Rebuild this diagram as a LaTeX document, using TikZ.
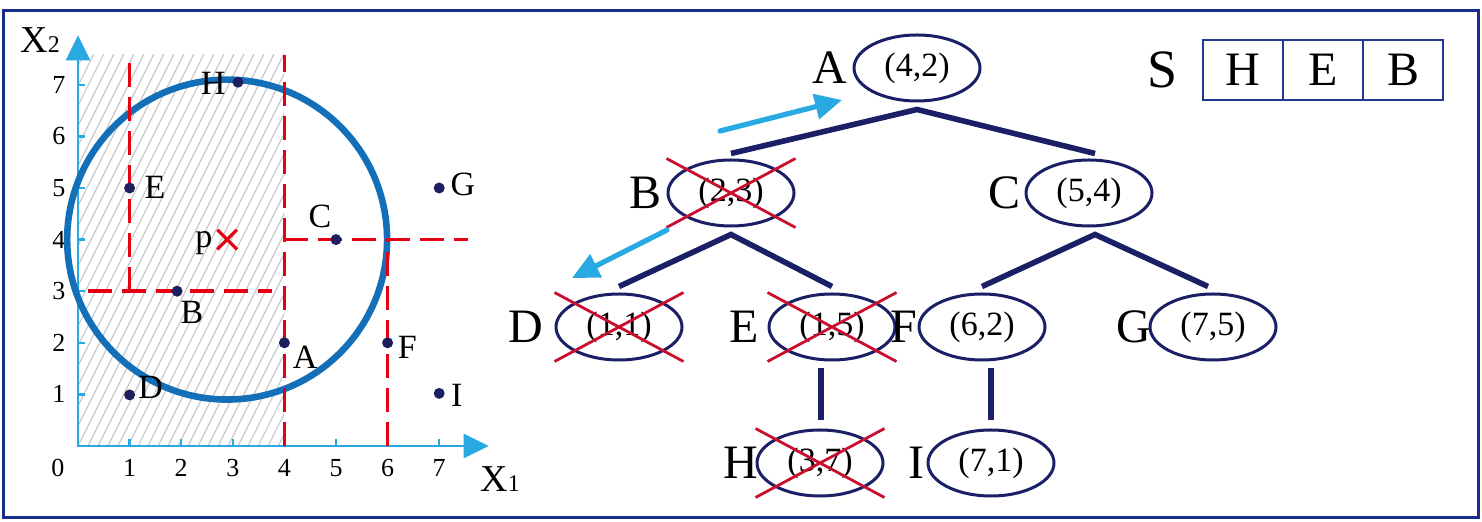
\documentclass[tikz,border=0pt]{standalone}
\usepackage{fontspec}
\setmainfont{Liberation Serif}
\usetikzlibrary{calc, arrows.meta, shapes.geometric}

\definecolor{framecol}{HTML}{1C2E8C}
\definecolor{axiscol}{HTML}{29A9E1}
\definecolor{ringcol}{HTML}{1370B8}
\definecolor{splitcol}{HTML}{E50013}
\definecolor{dotcol}{HTML}{1D1F5E}
\definecolor{treecol}{HTML}{1B1F66}
\definecolor{cutcol}{HTML}{C8102E}
\definecolor{hatchcol}{HTML}{C9C9C9}
\definecolor{stackcol}{HTML}{1F3A93}

\begin{document}
\begin{tikzpicture}[x=0.5pt, y=-0.5pt,
  kdnode/.style={ellipse, draw=treecol, line width=1.5pt, minimum width=63pt, minimum height=33pt, inner sep=0pt, font=\fontsize{17}{17}\selectfont},
  kdedge/.style={draw=treecol, line width=2.8pt},
  cut/.style={draw=cutcol, line width=1.4pt},
  split/.style={draw=splitcol, line width=1.7pt, dash pattern=on 12pt off 5pt},
  kdpoint/.style={circle, fill=dotcol, inner sep=0pt, minimum size=5.5pt},
  walk/.style={draw=axiscol, line width=2.6pt, line cap=round, -{Triangle[length=13.5pt, width=12.5pt]}},
  stackcell/.style={draw=stackcol, line width=1.3pt, minimum width=40pt, minimum height=30pt, inner sep=0pt, outer sep=0pt, font=\fontsize{24}{24}\selectfont},
  big/.style={font=\fontsize{24}{24}\selectfont},
  lab/.style={font=\fontsize{17}{17}\selectfont},
  num/.style={font=\fontsize{13}{13}\selectfont}]

  \useasboundingbox (0,0) rectangle (1482,522);
  \draw[framecol, line width=1.5pt] (3,11) rectangle (1478,518);

  \begin{scope}[shift={(78,446)}, x=25.8pt, y=25.8pt]
    \begin{scope}
      \clip (0,0) rectangle (4,7.58);
      \foreach \i in {-22,...,21}
        \draw[hatchcol, line width=0.6pt] (\i*0.194,0) -- ++(4,8);
    \end{scope}
    \draw[axiscol, line width=1.2pt, {Triangle[length=12.5pt, width=12pt]}-{Triangle[length=12.5pt, width=12pt]}] (0,7.96) -- (0,0) -- (7.96,0);
    \foreach \k in {1,...,7} {
      \draw[axiscol, line width=1.2pt] (\k,0) -- (\k,0.13);
      \draw[axiscol, line width=1.2pt] (0,\k) -- (0.13,\k);
      \node[num] (tx\k) at (\k,-0.43) {\k};
      \node[num] (ty\k) at (-0.37,\k) {\k};
    }
    \node[num] (t0) at (-0.39,-0.43) {0};

    \draw[ringcol, line width=3.3pt] (2.89,4) circle[radius=3.1];

    \draw[split] (4,0) -- (4,7.58);
    \draw[split] (0.2,3) -- (3.75,3);
    \draw[split] (1,3) -- (1,7.58);
    \draw[split] (4,4) -- (7.55,4);
    \draw[split] (6,0) -- (6,4);

    \foreach \n/\px/\py in {A/4/2, B/1.92/3, C/5/4, D/1/0.99, E/1/5, F/6/2, G/7/5, H/3.1/7.05, I/7/1.02}
      \node[kdpoint] (p\n) at (\px,\py) {};

    \node[lab] (lA) at (4.40,1.72) {A};
    \node[lab] (lB) at (2.21,2.58) {B};
    \node[lab] (lC) at (4.69,4.44) {C};
    \node[lab] (lD) at (1.41,1.14) {D};
    \node[lab] (lE) at (1.49,5.02) {E};
    \node[lab] (lF) at (6.38,1.92) {F};
    \node[lab] (lG) at (7.46,5.06) {G};
    \node[lab] (lH) at (2.62,7.03) {H};
    \node[lab] (lI) at (7.34,0.99) {I};

    \coordinate (q) at (2.89,4);
    \draw[splitcol, line width=1.6pt] ($(q)+(-0.19,-0.19)$) -- ($(q)+(0.19,0.19)$)
      ($(q)+(-0.19,0.19)$) -- ($(q)+(0.19,-0.19)$);
    \node[lab] (lp) at (2.44,3.93) {p};
  \end{scope}

  \node[anchor=base west, inner sep=0pt] (xtwo) at (20,53) {\fontsize{19}{19}\selectfont X\fontsize{12}{12}\selectfont 2};
  \node[anchor=base west, inner sep=0pt] (xone) at (480,492) {\fontsize{19}{19}\selectfont X\fontsize{12}{12}\selectfont 1};

  \node[kdnode] (A) at (917,68) {(4,2)};
  \node[kdnode] (B) at (731,193) {(2,3)};
  \node[kdnode] (C) at (1089,193) {(5,4)};
  \node[kdnode] (D) at (619,327) {(1,1)};
  \node[kdnode] (E) at (832,327) {(1,5)};
  \node[kdnode] (F) at (982,327) {(6,2)};
  \node[kdnode] (G) at (1213,327) {(7,5)};
  \node[kdnode] (H) at (820,463) {(3,7)};
  \node[kdnode] (I) at (991,463) {(7,1)};

  \node[big] (nA) at (830,68) {A};
  \node[big] (nB) at (645,193) {B};
  \node[big] (nC) at (1004,193) {C};
  \node[big] (nD) at (526,327) {D};
  \node[big] (nE) at (744,327) {E};
  \node[big] (nF) at (904,327) {F};
  \node[big] (nG) at (1134,327) {G};
  \node[big] (nH) at (741,463) {H};
  \node[big] (nI) at (916,463) {I};

  \draw[kdedge] ($(B.north)+(0,-5)$) -- ($(A.south)+(0,7)$) -- ($(C.north)+(6,-5)$);
  \draw[kdedge] ($(D.north)+(0,-6)$) -- ($(B.south)+(0,7)$) -- ($(E.north)+(0,-6)$);
  \draw[kdedge] ($(F.north)+(0,-6)$) -- ($(C.south)+(6,7)$) -- ($(G.north)+(-5,-6)$);
  \draw[kdedge] ($(E.south -| H.north)+(1,7)$) -- ($(H.north)+(1,-8)$);
  \draw[kdedge] ($(F.south -| I.north)+(0,7)$) -- ($(I.north)+(0,-8)$);

  \foreach \n in {B,D,E,H} {
    \draw[cut] (\n.west |- \n.north) -- (\n.east |- \n.south);
    \draw[cut] (\n.west |- \n.south) -- (\n.east |- \n.north);
  }

  \coordinate (up0) at (720,131);
  \coordinate (up1) at (842,100);
  \coordinate (down0) at (667,230);
  \coordinate (down1) at (572,278);
  \draw[walk] (up0) -- (up1);
  \draw[walk] (down0) -- (down1);

  \node[font=\fontsize{27}{27}\selectfont] (S) at (1162,70) {S};
  \foreach \t [count=\k] in {H,E,B}
    \node[stackcell] (s\k) at (1163+80*\k,70) {\t};
\end{tikzpicture}
\end{document}
